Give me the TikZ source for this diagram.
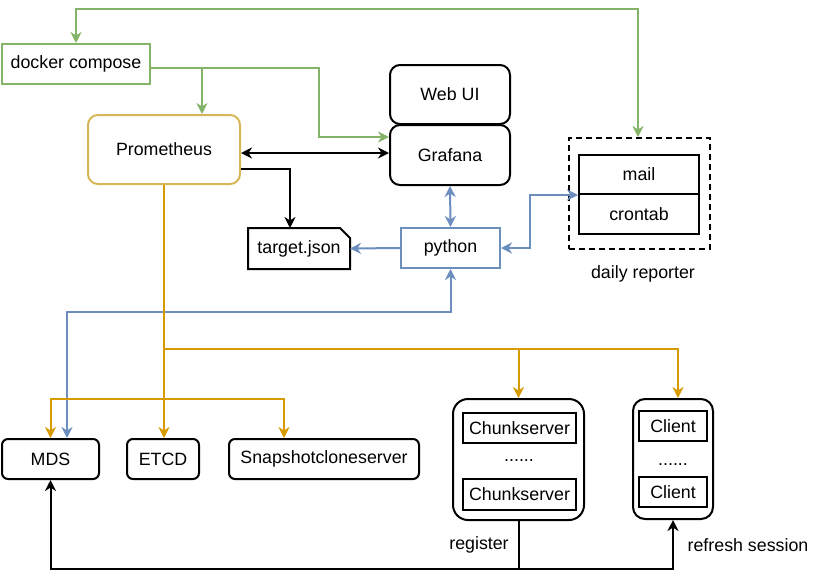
\documentclass[tikz,border=0pt]{standalone}
\usepackage{fontspec}
\setmainfont{Liberation Sans}
\usetikzlibrary{arrows.meta,calc}
\definecolor{gr}{HTML}{82B366}
\definecolor{yb}{HTML}{D6B656}
\definecolor{yl}{HTML}{D79B00}
\definecolor{bl}{HTML}{6C8EBF}
\begin{document}
\begin{tikzpicture}[x=1pt,y=-1pt,
  font=\fontsize{17.8}{21}\selectfont,
  >={Stealth[length=11pt,width=11pt,inset=3.5pt]},
  line width=2pt,
  box/.style={draw,line width=2pt,inner sep=0pt,anchor=center},
  rbox/.style={box,rounded corners=#1},
  gline/.style={draw=gr,line width=2pt},
  yline/.style={draw=yl,line width=2pt},
  bline/.style={draw=bl,line width=2pt},
  kline/.style={draw=black,line width=2pt},
  lbl/.style={inner sep=0pt,anchor=center}]
\useasboundingbox (0,0) rectangle (819,579);
% nodes
\node[box,draw=gr,minimum width=148,minimum height=40] (dc) at (76,64) {docker compose};
\node[rbox=10,draw=yb,minimum width=152,minimum height=69] (prom) at (164,149.5) {Prometheus};
\node[rbox=10,minimum width=120,minimum height=59] (webui) at (450,94.5) {Web UI};
\node[rbox=10,minimum width=120,minimum height=60] (grafana) at (450,155) {Grafana};
\node[lbl,minimum width=100,minimum height=39] (target) at (299,248.5) {target.json};
\draw[kline] (target.north west) -- ($(target.north east)+(-10,0)$) -- ($(target.north east)+(0,10)$) -- (target.south east) -- (target.south west) -- cycle;
\node[box,draw=bl,minimum width=99,minimum height=40] (python) at (450.5,248) {python};
\node[box,dashed,dash pattern=on 6pt off 4pt,minimum width=141,minimum height=111] (daily) at (639.5,193.5) {};
\node[box,minimum width=120,minimum height=39] (mail) at (639,174.5) {mail};
\node[box,minimum width=120,minimum height=40] (crontab) at (639,214) {crontab};
\node[lbl] (dlabel) at (643,274) {daily reporter};
\node[rbox=6,minimum width=97,minimum height=40] (mds) at (50.5,459) {MDS};
\node[rbox=6,minimum width=72,minimum height=40] (etcd) at (163,459) {ETCD};
\node[rbox=6,minimum width=190,minimum height=40] (snap) at (324,459) {Snapshotcloneserver};
\node[rbox=15,minimum width=131,minimum height=121] (cg) at (518.5,459.5) {};
\node[box,minimum width=113,minimum height=30] (cs1) at (519.5,428) {Chunkserver};
\node[box,minimum width=113,minimum height=31] (cs2) at (519.5,494.5) {Chunkserver};
\node[lbl] (csdots) at (519,461) {......};
\node[rbox=12,minimum width=80,minimum height=120] (clg) at (673,459) {};
\node[box,minimum width=68,minimum height=30] (cl1) at (673,426) {Client};
\node[box,minimum width=68,minimum height=30] (cl2) at (673,492) {Client};
\node[lbl] (cldots) at (673,465) {......};
\node[lbl] (reg) at (479,545) {register};
\node[lbl] (refresh) at (748,545) {refresh session};
% bus coordinates
\coordinate (gtop) at (638,9);
\coordinate (gbus) at (202,68);
\coordinate (ybus) at (164,349);
\coordinate (ybus2) at (164,399);
\coordinate (bbus) at (67,312);
\coordinate (kbus) at (518.5,569);
% green connectors
\draw[gline,<->] (daily.north -| gtop) -- (gtop) -| (dc.north);
\draw[gline,->] ($(dc.east)+(0,4)$) -| ($(grafana.west)+(-70,-18)$) -- ($(grafana.west)+(0,-18)$);
\draw[gline,->] (gbus) -- (gbus |- prom.north);
% black connectors
\draw[kline,<->] ($(prom.east)+(0,3.5)$) -- ($(grafana.west)+(0,-2)$);
\draw[kline,->] ($(prom.east)+(0,19.5)$) -| ($(target.north)+(-9,0)$);
% blue connectors
\draw[bline,<->] (grafana.south) -- (python.north);
\draw[bline,->] (python.west) -- (target.east);
\draw[bline,<->] (python.east) -- ++(28.5,0) |- (mail.south west);
\draw[bline,<->] (python.south) |- (bbus) -- (bbus |- mds.north);
% yellow connectors
\draw[yline,->] (prom.south) -- (prom.south |- etcd.north);
\draw[yline,->] (ybus) -| (cg.north);
\draw[yline,->] (ybus -| cg.north) -| ($(clg.north)+(5,0)$);
\draw[yline,->] (ybus2) -| (mds.north);
\draw[yline,->] (ybus2) -| ($(snap.north)+(-40,0)$);
% black bottom connectors
\draw[kline,->] (cg.south) -- (kbus) -| (mds.south);
\draw[kline,->] (kbus) -| (clg.south);
\end{tikzpicture}
\end{document}
